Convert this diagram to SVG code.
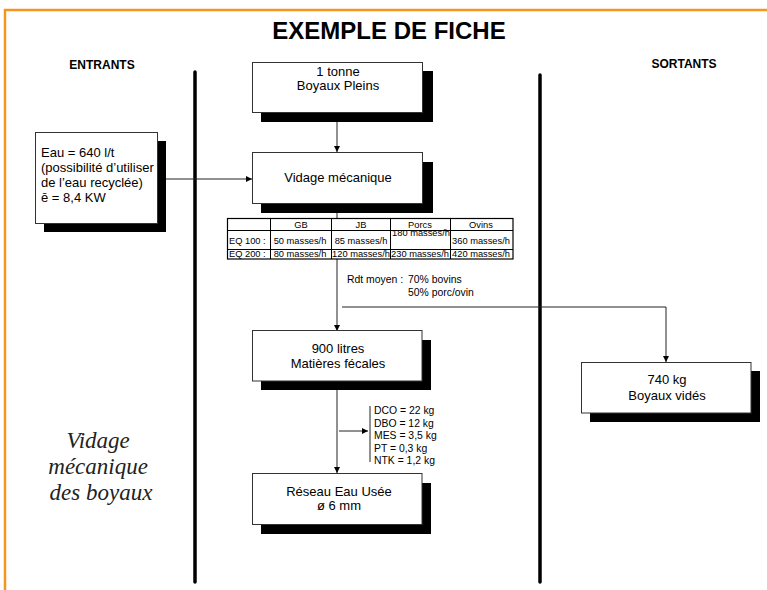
<svg xmlns="http://www.w3.org/2000/svg" width="767" height="590" viewBox="0 0 767 590">
<defs>
<marker id="ah" markerWidth="6" markerHeight="6" refX="6" refY="3" orient="auto" markerUnits="userSpaceOnUse">
<path d="M0,0 L6,3 L0,6 Z" fill="#000"/>
</marker>
</defs>
<style>
.t{font-family:"Liberation Sans",Arial,sans-serif;fill:#000}
.bx{fill:#fff;stroke:#333;stroke-width:1}
.sh{fill:#000}
.c{stroke:#222;stroke-width:1;fill:none}
.sep{stroke:#000;stroke-width:3.5;stroke-linecap:round}
.tb{fill:#fff;stroke:#000;stroke-width:1.2}
.tl{stroke:#000;stroke-width:1}
.box{font-size:13px;text-anchor:middle}
.sm{font-size:9.3px}
.md{font-size:10.4px}
</style>
<rect width="767" height="590" fill="#fff"/>
<path d="M5,590 L5,10 L767,10" fill="none" stroke="#f7941d" stroke-width="2.5"/>
<text class="t" x="389" y="39" font-size="24" font-weight="bold" text-anchor="middle">EXEMPLE DE FICHE</text>
<text class="t" x="102" y="69" font-size="12" font-weight="bold" text-anchor="middle">ENTRANTS</text>
<text class="t" x="684" y="68" font-size="12" font-weight="bold" text-anchor="middle">SORTANTS</text>
<line class="sep" x1="195" y1="72" x2="195" y2="582"/>
<line class="sep" x1="540" y1="75" x2="540" y2="582"/>
<text font-family="'Liberation Serif','Times New Roman',serif" font-style="italic" font-size="23" text-anchor="middle" fill="#222">
<tspan x="101" y="448">Vidage</tspan>
<tspan x="101" y="474">mécanique</tspan>
<tspan x="101" y="500">des boyaux</tspan>
</text>
<g id="connectors">
<line class="c" x1="337" y1="112" x2="337" y2="152" marker-end="url(#ah)"/>
<line class="c" x1="157" y1="179" x2="252" y2="179" marker-end="url(#ah)"/>
<line class="c" x1="337" y1="203" x2="337" y2="331" marker-end="url(#ah)"/>
<path class="c" d="M342,307 L666,307 L666,362" marker-end="url(#ah)"/>
<line class="c" x1="337" y1="381" x2="337" y2="473" marker-end="url(#ah)"/>
<line class="c" x1="339" y1="431" x2="368" y2="431" marker-end="url(#ah)"/>
<line class="c" x1="370" y1="406" x2="370" y2="462"/>
</g>
<g id="n1">
<rect class="sh" x="261" y="71" width="172" height="51"/>
<rect class="bx" x="252.5" y="62.5" width="170" height="50"/>
<text class="t box" x="338" y="76">1 tonne</text>
<text class="t box" x="338" y="90">Boyaux Pleins</text>
</g>
<g id="n2">
<rect class="sh" x="261" y="162" width="172" height="51"/>
<rect class="bx" x="252.5" y="152.5" width="170" height="51"/>
<text class="t box" x="338" y="182">Vidage mécanique</text>
</g>
<g id="n0">
<rect class="sh" x="44" y="141" width="122" height="91"/>
<rect class="bx" x="35.5" y="132.5" width="122" height="91"/>
<text class="t" font-size="13">
<tspan x="41" y="157">Eau = 640 l/t</tspan>
<tspan x="41" y="172">(possibilité d’utiliser</tspan>
<tspan x="41" y="187">de l’eau recyclée)</tspan>
<tspan x="41" y="202">ē = 8,4 KW</tspan>
</text>
</g>
<g id="table">
<rect class="tb" x="227.5" y="218.5" width="285.5" height="40.5"/>
<line class="tl" x1="227.5" y1="230.5" x2="513" y2="230.5"/>
<line class="tl" x1="227.5" y1="249.5" x2="513" y2="249.5"/>
<line class="tl" x1="270.5" y1="218.5" x2="270.5" y2="259"/>
<line class="tl" x1="331.5" y1="218.5" x2="331.5" y2="259"/>
<line class="tl" x1="390.5" y1="218.5" x2="390.5" y2="259"/>
<line class="tl" x1="450.5" y1="218.5" x2="450.5" y2="259"/>
<g class="t sm" text-anchor="middle">
<text x="301" y="227.5">GB</text>
<text x="361" y="227.5">JB</text>
<text x="420" y="227.5">Porcs</text>
<text x="481" y="227.5">Ovins</text>
<text x="300" y="244">50 masses/h</text>
<text x="361" y="244">85 masses/h</text>
<text x="421" y="236">180 masses/h</text>
<text x="481" y="244">360 masses/h</text>
<text x="300" y="256.5">80 masses/h</text>
<text x="361" y="256.5">120 masses/h</text>
<text x="420" y="256.5">230 masses/h</text>
<text x="481" y="256.5">420 masses/h</text>
</g>
<text class="t sm" x="229" y="244">EQ 100 :</text>
<text class="t sm" x="229" y="256.5">EQ 200 :</text>
</g>
<g id="rdt">
<text class="t md" x="347" y="283">Rdt moyen :</text>
<text class="t md" x="408" y="283">70% bovins</text>
<text class="t md" x="408" y="296">50% porc/ovin</text>
</g>
<g id="n3">
<rect class="sh" x="261" y="340" width="170" height="50"/>
<rect class="bx" x="252.5" y="330.5" width="169.5" height="50.5"/>
<text class="t box" x="338" y="353">900 litres</text>
<text class="t box" x="338" y="368">Matières fécales</text>
</g>
<g id="n4">
<rect class="sh" x="590" y="371" width="170" height="51"/>
<rect class="bx" x="581.5" y="362.5" width="169.5" height="50.5"/>
<text class="t box" x="667" y="384">740 kg</text>
<text class="t box" x="667" y="400">Boyaux vidés</text>
</g>
<g id="pollution" class="t md">
<text x="374" y="414">DCO = 22 kg</text>
<text x="374" y="426.5">DBO = 12 kg</text>
<text x="374" y="439">MES = 3,5 kg</text>
<text x="374" y="451.5">PT = 0,3 kg</text>
<text x="374" y="464">NTK = 1,2 kg</text>
</g>
<g id="n5">
<rect class="sh" x="261" y="483" width="170" height="51"/>
<rect class="bx" x="252.5" y="473.5" width="169.5" height="51"/>
<text class="t box" x="339" y="496">Réseau Eau Usée</text>
<text class="t box" x="339" y="510">ø 6 mm</text>
</g>
</svg>
